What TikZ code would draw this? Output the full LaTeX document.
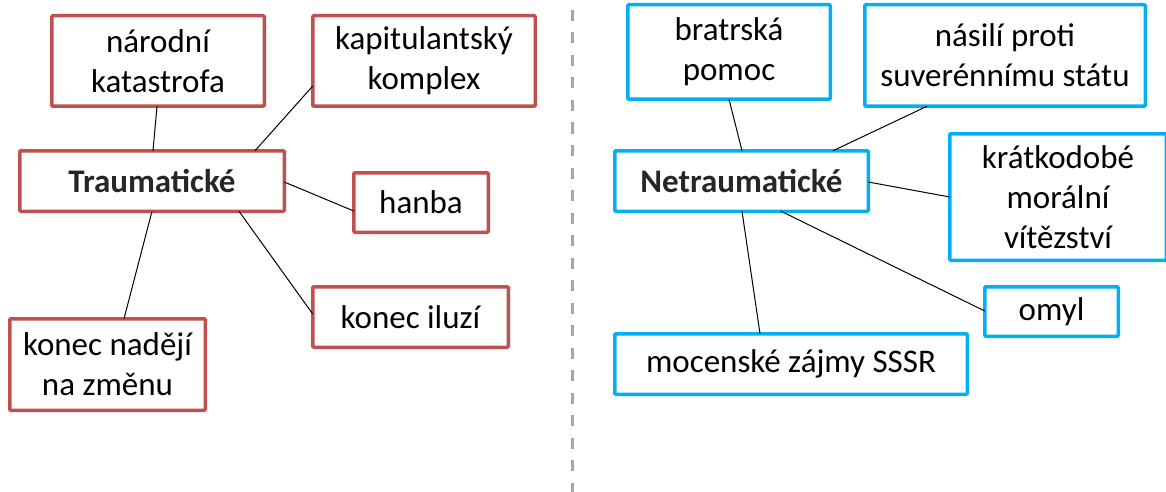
\documentclass[tikz,border=0pt]{standalone}
\usepackage{fontspec}
\setmainfont{Carlito}
\usetikzlibrary{calc}
\definecolor{redb}{HTML}{C0504D}
\definecolor{blueb}{HTML}{00B0F0}
\definecolor{sepgray}{HTML}{A6A6A6}
\definecolor{boldtxt}{HTML}{262626}
\tikzset{
  box/.style={draw, line width=3.5pt, rounded corners=1pt, fill=white, inner sep=0pt, align=center,
    font=\fontsize{33}{40}\selectfont, text=black},
  rbox/.style={box, draw=redb},
  bbox/.style={box, draw=blueb},
  hub/.style={font=\fontsize{33}{40}\selectfont\bfseries, text=boldtxt},
  link/.style={draw=black, line width=1pt},
  sep/.style={draw=sepgray, line width=3pt, dash pattern=on 11pt off 11.5pt}
}
\begin{document}
\begin{tikzpicture}[x=1pt,y=-1pt]
\useasboundingbox (0,0) rectangle (1166,492);
\clip (0,0) rectangle (1166,492);
\fill[white] (0,0) rectangle (1166,492);

% separator
\coordinate (s1) at (572,10);
\coordinate (s2) at (572,492);
\draw[sep] (s1) -- (s2);

% left group
\node[rbox, minimum width=212.5pt, minimum height=90.5pt] (nar) at (158,61) {národní\\katastrofa};
\node[rbox, minimum width=222.5pt, minimum height=90.5pt] (kap) at (424,61) {kapitulantský\\komplex};
\node[rbox, hub, minimum width=264.5pt, minimum height=60.5pt] (tra) at (152,181) {Traumatické};
\node[rbox, minimum width=134.5pt, minimum height=59.5pt] (han) at (421,202.5) {hanba};
\node[rbox, minimum width=195.5pt, minimum height=60.5pt] (ilu) at (410.5,317) {konec iluzí};
\node[rbox, minimum width=195.5pt, minimum height=91.5pt] (nad) at (107.5,364.5) {konec nadějí\\na změnu};

% right group
\node[bbox, minimum width=202.5pt, minimum height=94.5pt] (bra) at (729,52) {bratrská\\pomoc};
\node[bbox, minimum width=280.5pt, minimum height=101.5pt] (nas) at (1005,55.5) {násilí proti\\suverénnímu státu};
\node[bbox, hub, minimum width=253.5pt, minimum height=60.5pt] (net) at (741.5,181) {Netraumatické};
\node[bbox, minimum width=216.5pt, minimum height=126.5pt] (kra) at (1058,197) {krátkodobé\\morální\\vítězství};
\node[bbox, minimum width=133.5pt, minimum height=49.5pt] (omy) at (1051.5,311.5) {omyl};
\node[bbox, minimum width=352.5pt, minimum height=60.5pt] (moc) at (791,364) {mocenské zájmy SSSR};

% left connectors
\draw[link] ([xshift=-1pt,yshift=1.75pt]nar.south) -- ([xshift=1pt,yshift=-1.75pt]tra.north);
\draw[link] ([xshift=1.75pt,yshift=-25pt]kap.west) -- ([xshift=103pt,yshift=-1.75pt]tra.north);
\draw[link] ([xshift=-1.75pt,yshift=-1pt]tra.east) -- ([xshift=1.75pt,yshift=-8.5pt]han.west);
\draw[link] ([xshift=87pt,yshift=1.75pt]tra.south) -- ([xshift=1.75pt,yshift=3pt]ilu.west);
\draw[link] ([yshift=1.75pt]tra.south) -- ([xshift=16.5pt,yshift=-1.75pt]nad.north);

% right connectors
\draw[link] ([yshift=1.75pt]bra.south) -- ([xshift=0.5pt,yshift=-1.75pt]net.north);
\draw[link] ([xshift=-78pt,yshift=1.75pt]nas.south) -- ([xshift=91.5pt,yshift=-1.75pt]net.north);
\draw[link] ([xshift=-1.75pt,yshift=-1pt]net.east) -- ([xshift=1.75pt]kra.west);
\draw[link] ([xshift=39.5pt,yshift=1.75pt]net.south) -- ([xshift=1.75pt,yshift=0.5pt]omy.west);
\draw[link] ([xshift=0.5pt,yshift=1.75pt]net.south) -- ([xshift=-31pt,yshift=-1.75pt]moc.north);
\end{tikzpicture}
\end{document}
